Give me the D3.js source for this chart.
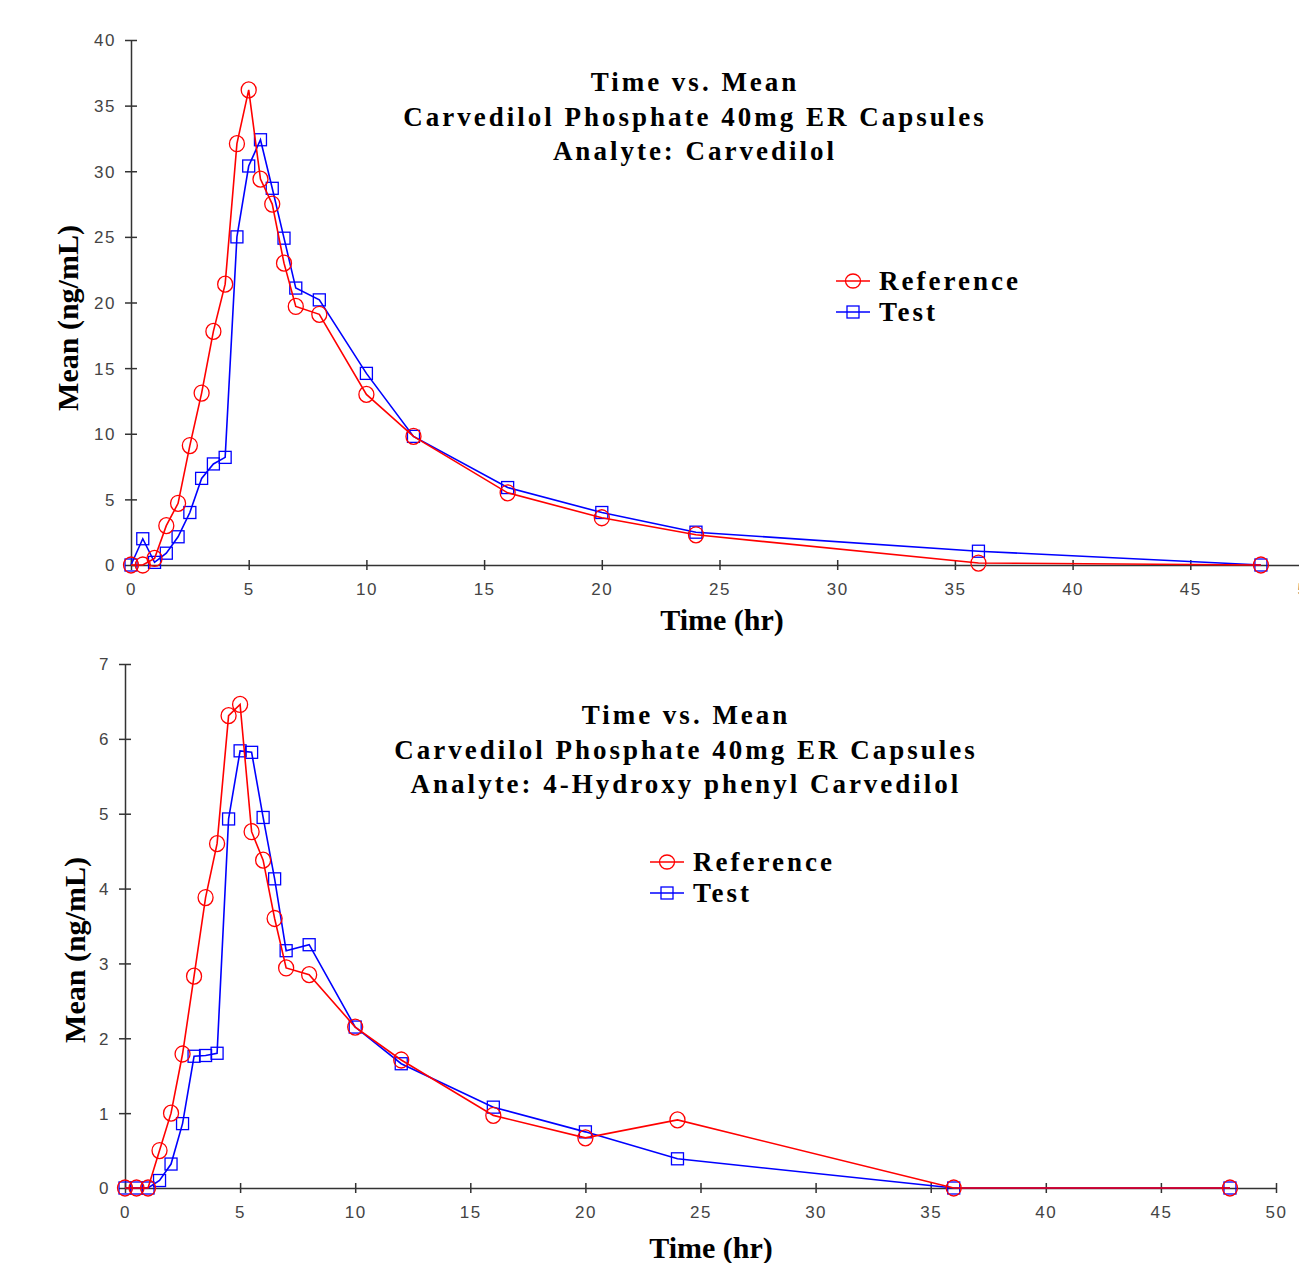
<!DOCTYPE html>
<meta charset="utf-8">
<style>
body { margin: 0; background: #fff; }
.tick text { font-family: "Liberation Sans", Arial, sans-serif; font-size: 17px; fill: #444; letter-spacing: 1.5px; }
.axis path, .axis line { stroke: #333; stroke-width: 1.5; }
.title, .legend-text { font-family: "Liberation Serif", "Times New Roman", serif; font-weight: bold; font-size: 27px; letter-spacing: 3px; fill: #000; }
.axis-title { font-family: "Liberation Serif", "Times New Roman", serif; font-weight: bold; font-size: 30px; fill: #000; }
</style>
<body>
<script src="https://d3js.org/d3.v7.min.js"></script>
<script>
var width = 1299,
    height = 1263;

// sampling times (hr)
var times = [0, 0.5, 1, 1.5, 2, 2.5, 3, 3.5, 4, 4.5, 5, 5.5, 6, 6.5, 7, 8, 10, 12, 16, 20, 24, 36, 48];

// carvedilol means (ng/mL)
var carvRef  = [0, 0, 0.5, 3.0, 4.7, 9.1, 13.1, 17.8, 21.4, 32.1, 36.2, 29.4, 27.5, 23.0, 19.7, 19.1, 13.0, 9.8, 5.5, 3.6, 2.3, 0.15, 0];
var carvTest = [0, 2.0, 0.2, 0.9, 2.15, 4.0, 6.6, 7.7, 8.2, 25.0, 30.4, 32.4, 28.7, 24.9, 21.1, 20.2, 14.6, 9.8, 5.9, 4.0, 2.5, 1.05, 0];

// 4-hydroxy phenyl carvedilol means (ng/mL)
var hydRef  = [0, 0, 0, 0.5, 1.0, 1.79, 2.83, 3.88, 4.6, 6.31, 6.46, 4.76, 4.38, 3.6, 2.94, 2.85, 2.15, 1.71, 0.97, 0.67, 0.91, 0, 0];
var hydTest = [0, 0, 0, 0.1, 0.32, 0.86, 1.76, 1.77, 1.8, 4.93, 5.84, 5.82, 4.95, 4.13, 3.17, 3.25, 2.15, 1.66, 1.08, 0.75, 0.39, 0, 0];

var xTicks = [0, 5, 10, 15, 20, 25, 30, 35, 40, 45, 50];
var carvYTicks = [0, 5, 10, 15, 20, 25, 30, 35, 40];
var hydYTicks = [0, 1, 2, 3, 4, 5, 6, 7];
var seriesNames = ["Reference", "Test"];
var titleTop = ["Time vs. Mean", "Carvedilol Phosphate 40mg ER Capsules", "Analyte: Carvedilol"];
var titleBottom = ["Time vs. Mean", "Carvedilol Phosphate 40mg ER Capsules", "Analyte: 4-Hydroxy phenyl Carvedilol"];

var svg = d3.select("body").append("svg")
    .attr("width", width)
    .attr("height", height);

function drawPanel(p) {
    var x = d3.scaleLinear().domain([0, 50]).range([p.left, p.right]);
    var y = d3.scaleLinear().domain([0, p.ymax]).range([p.bottom, p.top]);
    var g = svg.append("g");

    // x axis, ticks crossing the line
    var gx = g.append("g")
        .attr("class", "axis")
        .attr("transform", "translate(0," + p.bottom + ")")
        .call(d3.axisBottom(x).tickValues(xTicks).tickFormat(d3.format("d")).tickSizeOuter(0).tickPadding(0));
    gx.selectAll(".tick line").attr("y1", -5).attr("y2", 5);
    gx.selectAll(".tick text").attr("y", 30).attr("dy", 0);

    var gy = g.append("g")
        .attr("class", "axis")
        .attr("transform", "translate(" + p.left + ",0)")
        .call(d3.axisLeft(y).tickValues(p.yTicks).tickFormat(d3.format("d")).tickSizeOuter(0).tickPadding(0));
    gy.selectAll(".tick line").attr("x1", -6).attr("x2", 6);
    gy.selectAll(".tick text").attr("x", -15).attr("dy", "0.35em");
    g.selectAll(".axis .domain").attr("stroke", "#333");

    var line = d3.line()
        .x(function(d) { return x(d[0]); })
        .y(function(d) { return y(d[1]); });

    var series = [
        { name: "Test", vals: p.test, color: "#0000ff", shape: "square" },
        { name: "Reference", vals: p.ref, color: "#ff0000", shape: "circle" }
    ];

    series.forEach(function(s) {
        var pts = times.map(function(t, i) { return [t, s.vals[i]]; });
        g.append("path")
            .datum(pts)
            .attr("fill", "none")
            .attr("stroke", s.color)
            .attr("stroke-width", 1.6)
            .attr("d", line);
        if (s.shape === "circle") {
            g.selectAll(null).data(pts).enter().append("ellipse")
                .attr("cx", function(d) { return x(d[0]); })
                .attr("cy", function(d) { return y(d[1]); })
                .attr("rx", 7.5).attr("ry", 8)
                .attr("fill", "none").attr("stroke", s.color).attr("stroke-width", 1.3);
        } else {
            g.selectAll(null).data(pts).enter().append("rect")
                .attr("x", function(d) { return x(d[0]) - 6; })
                .attr("y", function(d) { return y(d[1]) - 6; })
                .attr("width", 12).attr("height", 12)
                .attr("fill", "none").attr("stroke", s.color).attr("stroke-width", 1.3);
        }
    });

    // titles
    p.title.forEach(function(t, i) {
        g.append("text")
            .attr("class", "title")
            .attr("x", p.titleX)
            .attr("y", p.titleY + i * 34.5)
            .attr("text-anchor", "middle")
            .text(t);
    });

    // legend
    seriesNames.forEach(function(n, i) {
        var ly = p.legY + i * 31;
        var col = i === 0 ? "#ff0000" : "#0000ff";
        g.append("line")
            .attr("x1", p.legX).attr("x2", p.legX + 34)
            .attr("y1", ly).attr("y2", ly)
            .attr("stroke", col).attr("stroke-width", 1.5);
        if (i === 0) {
            g.append("ellipse").attr("cx", p.legX + 17).attr("cy", ly)
                .attr("rx", 7.5).attr("ry", 7)
                .attr("fill", "none").attr("stroke", col).attr("stroke-width", 1.3);
        } else {
            g.append("rect").attr("x", p.legX + 11).attr("y", ly - 6)
                .attr("width", 12).attr("height", 12)
                .attr("fill", "none").attr("stroke", col).attr("stroke-width", 1.3);
        }
        g.append("text")
            .attr("class", "legend-text")
            .attr("x", p.legX + 43)
            .attr("y", ly + 9)
            .text(n);
    });

    g.append("text")
        .attr("class", "axis-title")
        .attr("text-anchor", "middle")
        .attr("transform", "translate(" + p.yLabX + "," + p.yLabY + ") rotate(-90)")
        .text("Mean (ng/mL)");

    g.append("text")
        .attr("class", "axis-title")
        .attr("text-anchor", "middle")
        .attr("x", p.xLabX)
        .attr("y", p.xLabY)
        .text("Time (hr)");
}

drawPanel({
    left: 131, right: 1308, top: 40, bottom: 565, ymax: 40, yTicks: carvYTicks,
    ref: carvRef, test: carvTest, title: titleTop,
    titleX: 695, titleY: 91, legX: 836, legY: 281,
    yLabX: 78, yLabY: 318, xLabX: 722, xLabY: 630
});

drawPanel({
    left: 125, right: 1276, top: 664, bottom: 1188, ymax: 7, yTicks: hydYTicks,
    ref: hydRef, test: hydTest, title: titleBottom,
    titleX: 686, titleY: 724, legX: 650, legY: 862,
    yLabX: 85, yLabY: 950, xLabX: 711, xLabY: 1258
});
</script>
</body>
